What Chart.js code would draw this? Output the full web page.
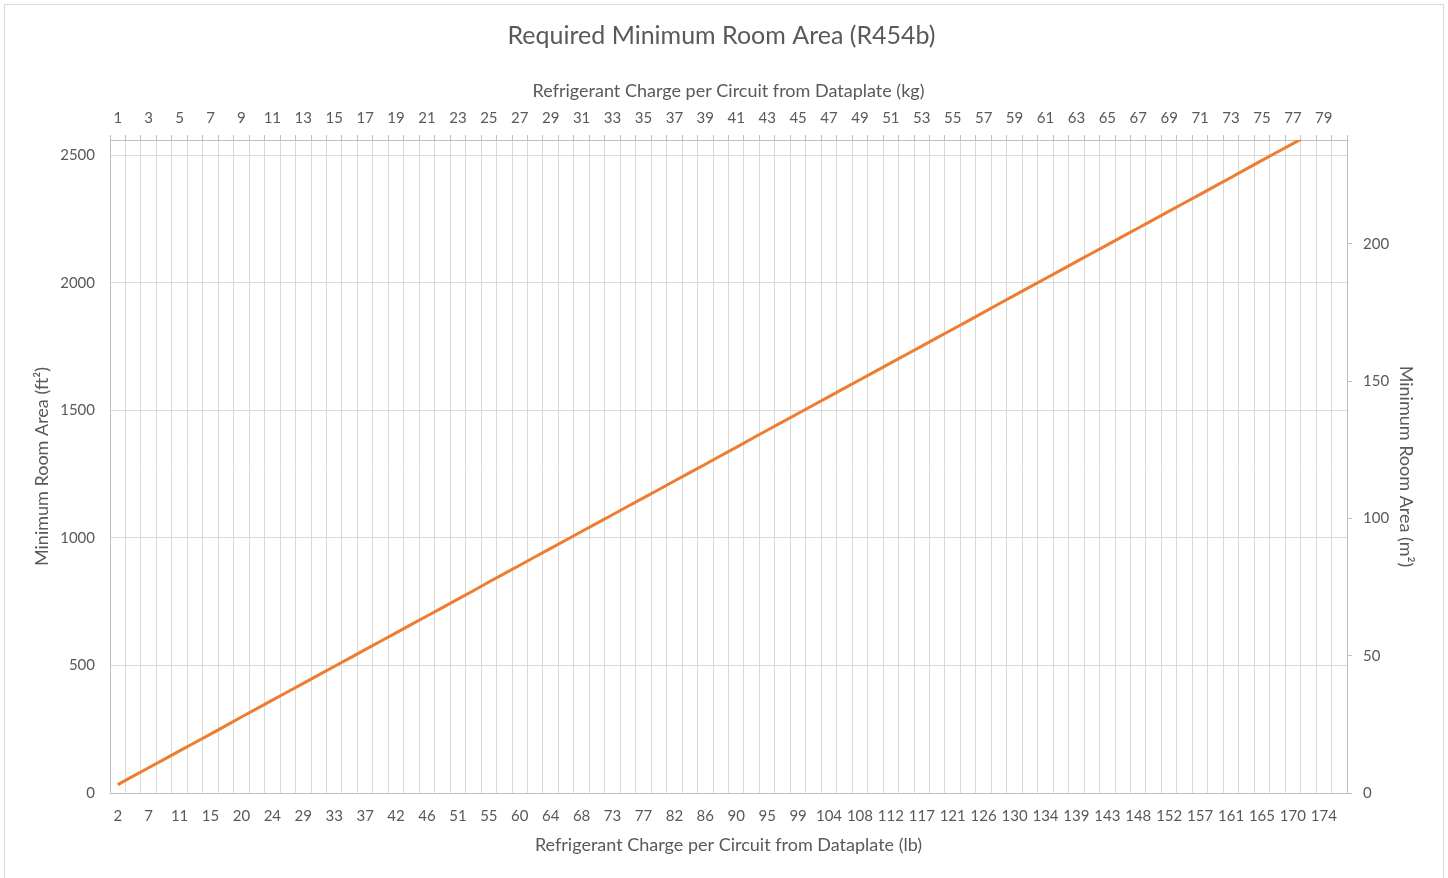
<!DOCTYPE html>
<html>
<head>
<meta charset="utf-8">
<title>Required Minimum Room Area (R454b)</title>
<script src="https://cdn.jsdelivr.net/npm/chart.js@4/dist/chart.umd.min.js"></script>
<style>
  html, body { margin: 0; padding: 0; background: #ffffff; }
  #wrap { position: relative; width: 1448px; height: 878px; }
</style>
</head>
<body>
<div id="wrap"><canvas id="chart" width="1448" height="878"></canvas></div>
<script>
// Refrigerant charge per circuit, kg (top axis categories)
const kgLabels = [
  1, 2, 3, 4, 5, 6, 7, 8, 9, 10, 11, 12, 13, 14, 15, 16, 17, 18, 19, 20,
  21, 22, 23, 24, 25, 26, 27, 28, 29, 30, 31, 32, 33, 34, 35, 36, 37, 38, 39, 40,
  41, 42, 43, 44, 45, 46, 47, 48, 49, 50, 51, 52, 53, 54, 55, 56, 57, 58, 59, 60,
  61, 62, 63, 64, 65, 66, 67, 68, 69, 70, 71, 72, 73, 74, 75, 76, 77, 78, 79, 80
];

// Same charges expressed in lb (bottom axis categories)
const lbLabels = [
  2, 4, 7, 9, 11, 13, 15, 18, 20, 22, 24, 26, 29, 31, 33, 35, 37, 40, 42, 44,
  46, 49, 51, 53, 55, 57, 60, 62, 64, 66, 68, 71, 73, 75, 77, 79, 82, 84, 86, 88,
  90, 93, 95, 97, 99, 101, 104, 106, 108, 110, 112, 115, 117, 119, 121, 123, 126, 128, 130, 132,
  134, 137, 139, 141, 143, 146, 148, 150, 152, 154, 157, 159, 161, 163, 165, 168, 170, 172, 174, 176
];

// Minimum room area, ft², for each charge
const areaFt2 = [
  33, 66, 99, 132, 165, 198, 231, 264, 298, 331,
  364, 397, 430, 463, 496, 529, 562, 595, 628, 661,
  694, 727, 760, 793, 827, 860, 893, 926, 959, 992,
  1025, 1058, 1091, 1124, 1157, 1190, 1223, 1256, 1289, 1322,
  1355, 1389, 1422, 1455, 1488, 1521, 1554, 1587, 1620, 1653,
  1686, 1719, 1752, 1785, 1818, 1851, 1884, 1918, 1951, 1984,
  2017, 2050, 2083, 2116, 2149, 2182, 2215, 2248, 2281, 2314,
  2347, 2380, 2413, 2447, 2480, 2513, 2546, 2579
];

// Value-axis tick marks
const ft2Ticks = [0, 500, 1000, 1500, 2000, 2500];
const m2Ticks = [0, 50, 100, 150, 200];

const ft2Max = 2560;
const ft2PerM2 = 10.7639;

const textColor = '#595959';
const gridColor = '#d9d9d9';
const axisColor = '#bfbfbf';
const fontFamily = 'Lato, "Open Sans", sans-serif';

// Frame around the whole chart
const frame = {
  id: 'frame',
  beforeDraw(chart) {
    const c = chart.ctx;
    c.save();
    c.fillStyle = '#ffffff';
    c.fillRect(0, 0, chart.width, chart.height);
    c.strokeStyle = gridColor;
    c.lineWidth = 1;
    c.strokeRect(4.5, 4.5, 1439, 900);
    c.restore();
  }
};

const everyOther = (list) => (value, index) => (index % 2 === 0 ? String(list[index]) : '');
const fixedTicks = (list) => (scale) => { scale.ticks = list.map((v) => ({ value: v })); };

new Chart(document.getElementById('chart'), {
  type: 'line',
  data: {
    labels: lbLabels,
    datasets: [{
      label: 'Minimum Room Area',
      data: areaFt2,
      xAxisID: 'x',
      yAxisID: 'y',
      borderColor: '#ED7D31',
      backgroundColor: '#ED7D31',
      borderWidth: 3,
      pointRadius: 0,
      pointHoverRadius: 0,
      tension: 0,
      clip: 0
    }]
  },
  options: {
    responsive: false,
    animation: false,
    events: [],
    layout: { padding: { top: 8, left: 20, right: 25, bottom: 15 } },
    plugins: {
      legend: { display: false },
      tooltip: { enabled: false },
      title: {
        display: true,
        text: 'Required Minimum Room Area (R454b)',
        color: textColor,
        font: { family: fontFamily, size: 25, weight: 'normal' },
        padding: { top: 13, bottom: 0 }
      }
    },
    scales: {
      x: {
        type: 'category',
        position: 'bottom',
        offset: true,
        grid: { offset: true, color: gridColor, lineWidth: 1, drawTicks: false },
        border: { display: true, color: axisColor, width: 1 },
        ticks: {
          autoSkip: false, maxRotation: 0, minRotation: 0, padding: 14,
          color: textColor, font: { family: fontFamily, size: 15 },
          callback: everyOther(lbLabels)
        },
        title: {
          display: true,
          text: 'Refrigerant Charge per Circuit from Dataplate (lb)',
          color: textColor,
          font: { family: fontFamily, size: 18 },
          padding: { top: 0, bottom: 7 }
        },
        afterFit(s) { s.height = 70; }
      },
      x2: {
        type: 'category',
        position: 'top',
        labels: kgLabels,
        offset: true,
        grid: { offset: true, drawOnChartArea: false, drawTicks: true, tickLength: 5, color: axisColor, lineWidth: 1 },
        border: { display: true, color: axisColor, width: 1 },
        ticks: {
          autoSkip: false, maxRotation: 0, minRotation: 0, padding: 8,
          color: textColor, font: { family: fontFamily, size: 15 },
          callback: everyOther(kgLabels)
        },
        title: {
          display: true,
          text: 'Refrigerant Charge per Circuit from Dataplate (kg)',
          color: textColor,
          font: { family: fontFamily, size: 18 },
          padding: { top: 29, bottom: 0 }
        },
        afterFit(s) { s.height = 89; }
      },
      y: {
        type: 'linear',
        position: 'left',
        min: 0,
        max: ft2Max,
        afterBuildTicks: fixedTicks(ft2Ticks),
        grid: { color: gridColor, lineWidth: 1, drawTicks: false },
        border: { display: true, color: axisColor, width: 1 },
        ticks: {
          padding: 15,
          color: textColor, font: { family: fontFamily, size: 15 },
          callback: (v) => String(v)
        },
        title: {
          display: true,
          text: 'Minimum Room Area (ft²)',
          color: textColor,
          font: { family: fontFamily, size: 18 },
          padding: { top: 11, bottom: 0 }
        },
        afterFit(s) { s.width = 90; }
      },
      y2: {
        type: 'linear',
        position: 'right',
        min: 0,
        max: ft2Max / ft2PerM2,
        afterBuildTicks: fixedTicks(m2Ticks),
        grid: { drawOnChartArea: false, drawTicks: true, tickLength: 5, color: axisColor, lineWidth: 1 },
        border: { display: true, color: axisColor, width: 1 },
        ticks: {
          padding: 11,
          color: textColor, font: { family: fontFamily, size: 15 },
          callback: (v) => String(v)
        },
        title: {
          display: true,
          text: 'Minimum Room Area (m²)',
          color: textColor,
          font: { family: fontFamily, size: 18 },
          padding: { top: 6, bottom: 0 }
        },
        afterFit(s) { s.width = 76; }
      }
    }
  },
  plugins: [frame]
});
</script>
</body>
</html>
